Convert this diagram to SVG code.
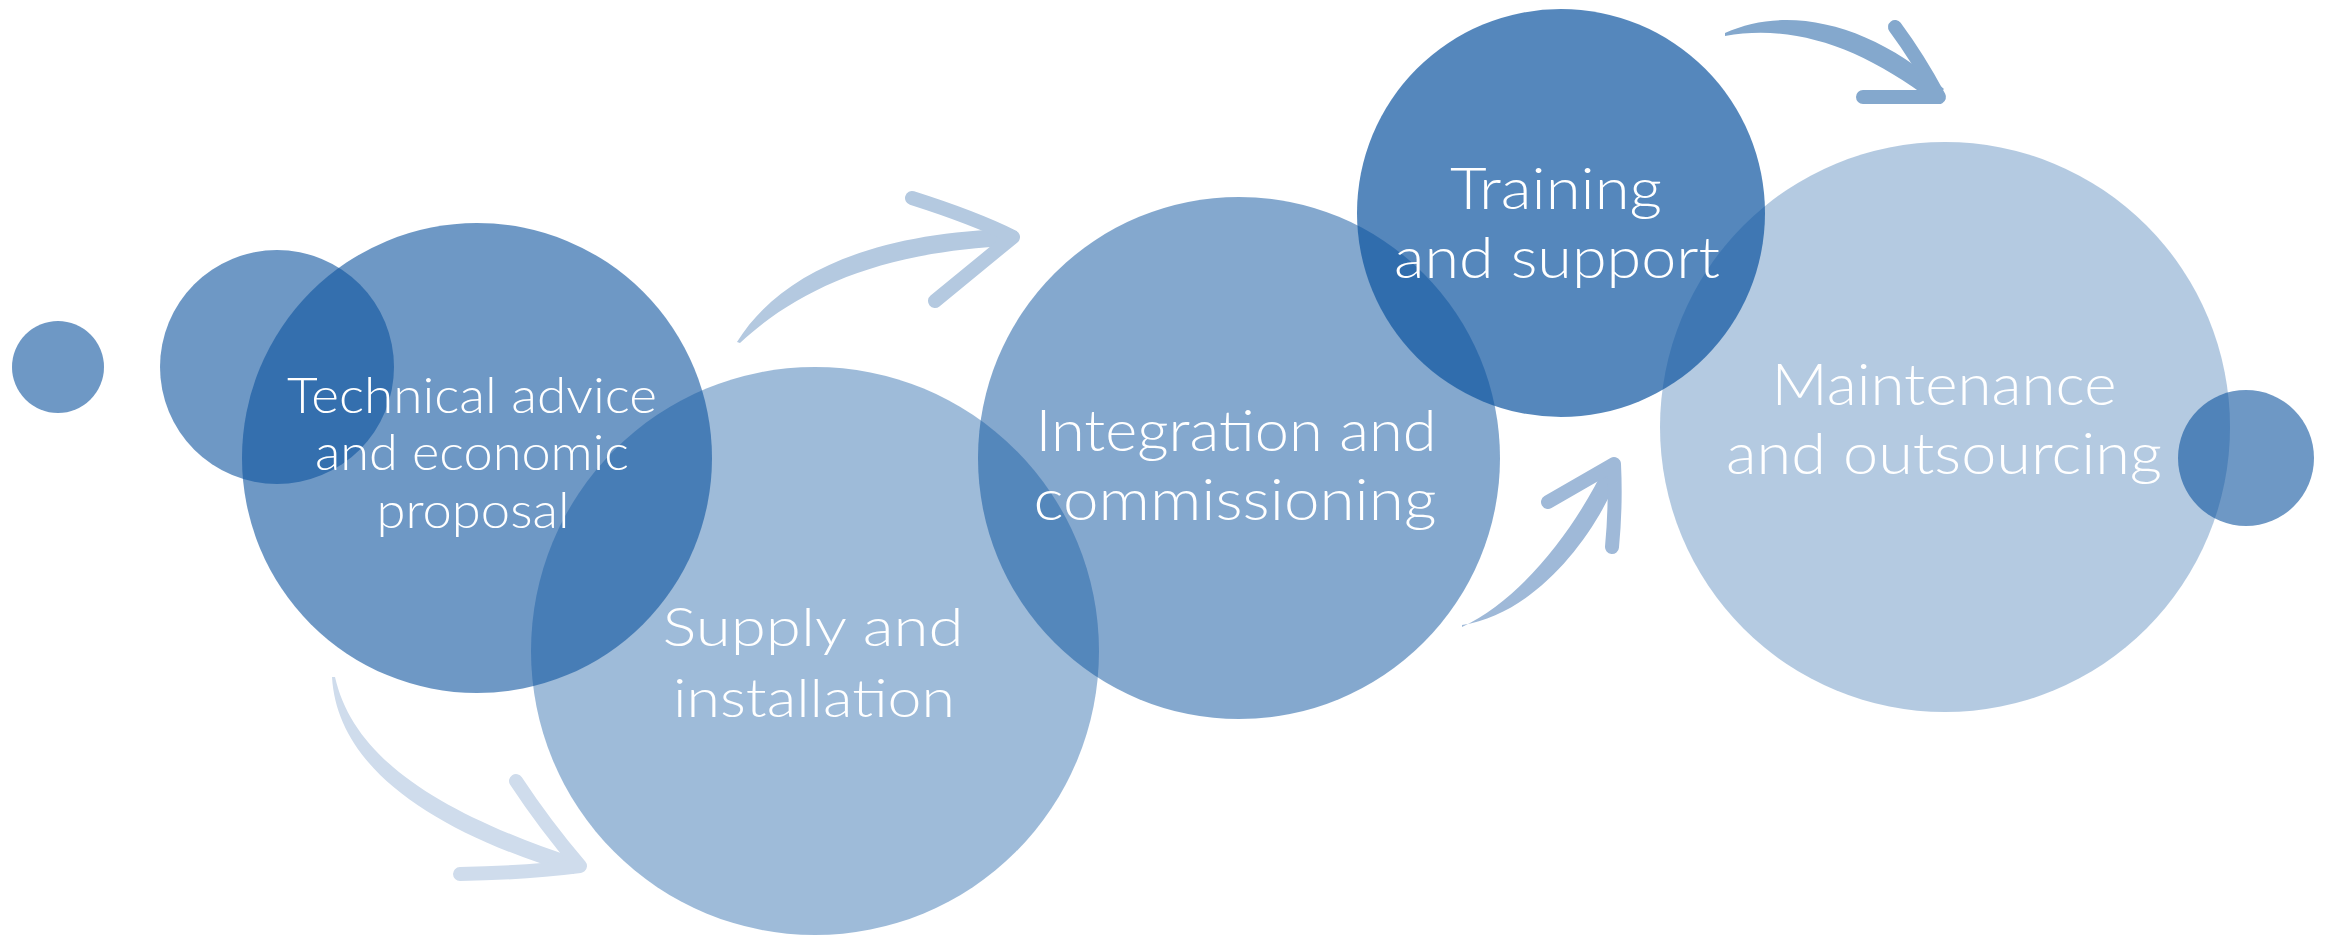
<svg xmlns="http://www.w3.org/2000/svg" width="2331" height="936" viewBox="0 0 2331 936">
<style>
.c{fill:#0d549f}
.t{fill:#ffffff;font-family:Lato,"Open Sans","Liberation Sans",sans-serif;font-weight:300;text-anchor:middle}
.barb{fill:none;stroke-width:14;stroke-linecap:round;stroke-linejoin:round}
</style>
<rect width="2331" height="936" fill="#ffffff"/>
<g id="connectors">
  <g id="arrow-1" fill="#cfdcec" stroke="#cfdcec">
    <path stroke="none" d="M332,677 C337,763 423,829 574,874 L578,859 C436,812 353,757 335,677 Z"/>
    <path class="barb" d="M516,781 Q545,825 580,866 Q525,873 460,874"/>
  </g>
  <g id="arrow-2" fill="#b4c9e0" stroke="#b4c9e0">
    <path stroke="none" d="M737,342 C780,272 876,232 1013,229 L1012,246 C882,251 798,289 740,343 Z"/>
    <path class="barb" d="M912,198 Q975,218 1013,237 L935,301"/>
  </g>
  <g id="arrow-3" fill="#9fb9d8" stroke="#9fb9d8">
    <path stroke="none" d="M1462,625 C1536,614 1596,535 1620,472 L1606,464 C1578,524 1524,598 1462,627 Z"/>
    <path class="barb" d="M1548,502 L1614,464 Q1616,505 1612,547"/>
  </g>
  <g id="arrow-4" fill="#84a8cd" stroke="#84a8cd">
    <path stroke="none" d="M1725,33 C1788,4 1872,24 1944,89 L1932,101 C1860,46 1792,24 1725,36 Z"/>
    <path class="barb" d="M1895,27 Q1918,58 1939,97 L1863,97"/>
  </g>
</g>
<g id="dot-left"><circle class="c" cx="58" cy="367" r="46" fill-opacity="0.6"/></g>
<g id="dot-small"><circle class="c" cx="277" cy="367" r="117" fill-opacity="0.6"/></g>
<g id="dot-right"><circle class="c" cx="2246" cy="458" r="68" fill-opacity="0.6"/></g>
<g id="node-supply">
  <circle class="c" cx="815" cy="651" r="284" fill-opacity="0.4"/>
  <text class="t" font-size="54"><tspan x="813" y="646" textLength="301" lengthAdjust="spacingAndGlyphs">Supply and</tspan><tspan x="814" y="717" textLength="282" lengthAdjust="spacingAndGlyphs">installation</tspan></text>
</g>
<g id="node-technical">
  <circle class="c" cx="477" cy="458" r="235" fill-opacity="0.6"/>
  <text class="t" font-size="49"><tspan x="472" y="413" textLength="370" lengthAdjust="spacingAndGlyphs">Technical advice</tspan><tspan x="472" y="470" textLength="314" lengthAdjust="spacingAndGlyphs">and economic</tspan><tspan x="473" y="528" textLength="193" lengthAdjust="spacingAndGlyphs">proposal</tspan></text>
</g>
<g id="node-integration">
  <circle class="c" cx="1239" cy="458" r="261" fill-opacity="0.51"/>
  <text class="t" font-size="58"><tspan x="1236" y="451" textLength="401" lengthAdjust="spacingAndGlyphs">Integration and</tspan><tspan x="1235" y="520" textLength="403" lengthAdjust="spacingAndGlyphs">commissioning</tspan></text>
</g>
<g id="node-maintenance">
  <circle class="c" cx="1945" cy="427" r="285" fill-opacity="0.31"/>
  <text class="t" font-size="58"><tspan x="1944" y="405" textLength="345" lengthAdjust="spacingAndGlyphs">Maintenance</tspan><tspan x="1944" y="474" textLength="436" lengthAdjust="spacingAndGlyphs">and outsourcing</tspan></text>
</g>
<g id="node-training">
  <circle class="c" cx="1561" cy="213" r="204" fill-opacity="0.7"/>
  <text class="t" font-size="57"><tspan x="1556" y="209" textLength="212" lengthAdjust="spacingAndGlyphs">Training</tspan><tspan x="1557" y="278" textLength="326" lengthAdjust="spacingAndGlyphs">and support</tspan></text>
</g>
</svg>
